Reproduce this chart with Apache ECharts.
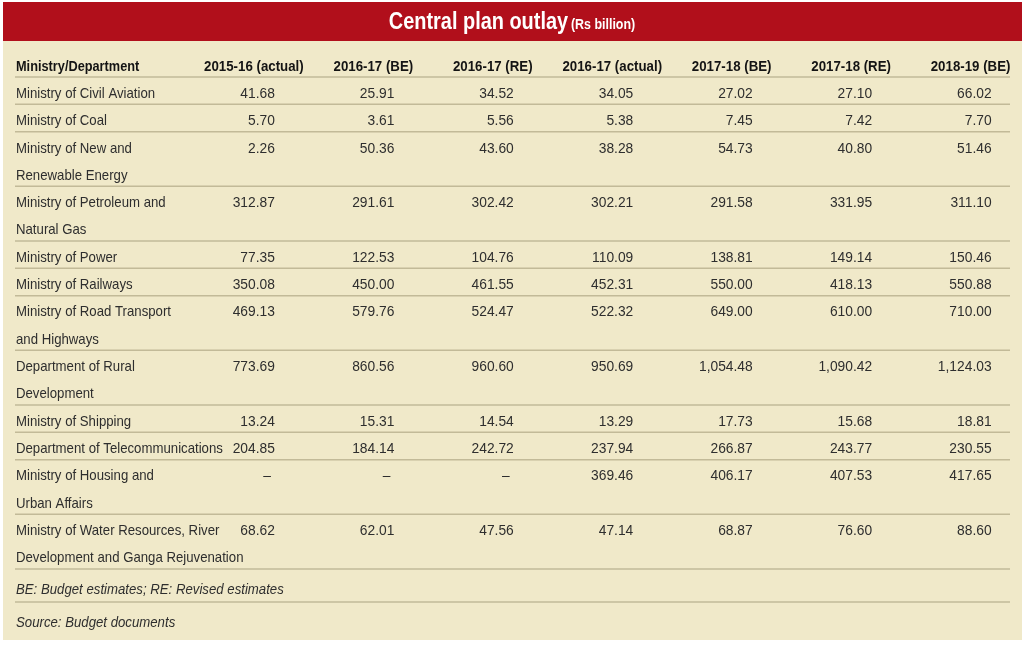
<!DOCTYPE html>
<html>
<head>
<meta charset="utf-8">
<script src="https://cdn.jsdelivr.net/npm/echarts@6/dist/echarts.min.js"></script>
<style>html,body{margin:0;padding:0;background:#fff}#c{width:1024px;height:645px}</style>
</head>
<body>
<div id="c"></div>
<script>
const title = 'Central plan outlay';
const unit = '(Rs billion)';
const firstColumn = 'Ministry/Department';
const periods = ['2015-16 (actual)', '2016-17 (BE)', '2016-17 (RE)', '2016-17 (actual)', '2017-18 (BE)', '2017-18 (RE)', '2018-19 (BE)'];
const ministries = [
  'Ministry of Civil Aviation',
  'Ministry of Coal',
  'Ministry of New and\nRenewable Energy',
  'Ministry of Petroleum and\nNatural Gas',
  'Ministry of Power',
  'Ministry of Railways',
  'Ministry of Road Transport\nand Highways',
  'Department of Rural\nDevelopment',
  'Ministry of Shipping',
  'Department of Telecommunications',
  'Ministry of Housing and\nUrban Affairs',
  'Ministry of Water Resources, River\nDevelopment and Ganga Rejuvenation'
];
const actual2015_16 = [41.68, 5.70, 2.26, 312.87, 77.35, 350.08, 469.13, 773.69, 13.24, 204.85, null, 68.62];
const be2016_17     = [25.91, 3.61, 50.36, 291.61, 122.53, 450.00, 579.76, 860.56, 15.31, 184.14, null, 62.01];
const re2016_17     = [34.52, 5.56, 43.60, 302.42, 104.76, 461.55, 524.47, 960.60, 14.54, 242.72, null, 47.56];
const actual2016_17 = [34.05, 5.38, 38.28, 302.21, 110.09, 452.31, 522.32, 950.69, 13.29, 237.94, 369.46, 47.14];
const be2017_18     = [27.02, 7.45, 54.73, 291.58, 138.81, 550.00, 649.00, 1054.48, 17.73, 266.87, 406.17, 68.87];
const re2017_18     = [27.10, 7.42, 40.80, 331.95, 149.14, 418.13, 610.00, 1090.42, 15.68, 243.77, 407.53, 76.60];
const be2018_19     = [66.02, 7.70, 51.46, 311.10, 150.46, 550.88, 710.00, 1124.03, 18.81, 230.55, 417.65, 88.60];
const notes = ['BE: Budget estimates; RE: Revised estimates', 'Source: Budget documents'];

const columns = [actual2015_16, be2016_17, re2016_17, actual2016_17, be2017_18, re2017_18, be2018_19];

// layout of sub-lines
const lineCats = ['h'];
const rowData = [{ value: [0, 0, -1] }];
ministries.forEach((m, i) => {
  const start = lineCats.length;
  m.split('\n').forEach(() => lineCats.push(String(lineCats.length)));
  rowData.push({ value: [0, start, i] });
});

const FONT = "'Liberation Sans', Arial, sans-serif";
const TXT = '#2e2e2e';
const RULE = '#c2ba98';
const DY = 3;

function fmt(v) {
  if (v === null || v === undefined) return '–';
  const s = v.toFixed(2).split('.');
  s[0] = s[0].replace(/\B(?=(\d{3})+(?!\d))/g, ',');
  return s.join('.');
}

function txt(x, y, t, align, bold, sx) {
  return {
    type: 'text',
    x: x, y: y, scaleX: sx,
    style: {
      x: 0, y: 0, text: t, align: align, verticalAlign: 'middle',
      fill: bold ? '#141414' : TXT,
      font: (bold ? 'bold ' : '') + '15px ' + FONT
    }
  };
}

function renderItem(params, api) {
  const r = api.value(2);
  const start = api.value(1);
  const cs = params.coordSys;
  const size = api.size([1, 1]);
  const h = size[1];
  const children = [];
  const labelX = cs.x + 1;
  let nLines = 1;
  const yc = api.coord([0, start])[1];
  const y0 = yc + DY;
  if (r < 0) {
    children.push(txt(labelX, y0, firstColumn, 'left', true, 0.85));
    periods.forEach((p, k) => {
      const c = api.coord([k, start]);
      children.push(txt(c[0], y0, p, 'center', true, 0.885));
    });
  } else {
    const parts = ministries[r].split('\n');
    nLines = parts.length;
    parts.forEach((p, j) => children.push(txt(labelX, y0 + j * h, p, 'left', false, 0.88)));
    columns.forEach((col, k) => {
      const c = api.coord([k, start]);
      const v = col[r];
      const isDash = v === null;
      children.push(txt(c[0] + 21 - (isDash ? 4 : 0), y0, fmt(v), 'right', false, 0.92));
    });
  }
  const ly = yc + (nLines - 0.5) * h;
  children.push({
    type: 'line',
    shape: { x1: cs.x, y1: ly, x2: cs.x + cs.width, y2: ly },
    style: { stroke: RULE, lineWidth: 1.5 }
  });
  return { type: 'group', children: children };
}

const chart = echarts.init(document.getElementById('c'));
chart.setOption({
  backgroundColor: '#ffffff',
  animation: false,
  graphic: [
    { type: 'rect', z: -10, shape: { x: 3, y: 2, width: 1019, height: 638 }, style: { fill: '#f0e9c9' } },
    { type: 'rect', z: -9, shape: { x: 3, y: 2, width: 1019, height: 39 }, style: { fill: '#b10f1b' } },
    {
      type: 'text', x: 512, y: 22, scaleX: 0.83, z: 5,
      style: {
        x: 0, y: 0, align: 'center', verticalAlign: 'middle',
        text: '{a|' + title + '} {b|' + unit + '}',
        rich: {
          a: { fontFamily: FONT, fontSize: 24, fontWeight: 'bold', fill: '#fff', color: '#fff' },
          b: { fontFamily: FONT, fontSize: 15, fontWeight: 'bold', fill: '#fff', color: '#fff', padding: [5, 0, 0, 0] }
        }
      }
    },
    { type: 'text', x: 16, y: 590, scaleX: 0.88, style: { x: 0, y: 0, text: notes[0], verticalAlign: 'middle', font: 'italic 15px ' + FONT, fill: TXT } },
    { type: 'line', shape: { x1: 15, y1: 602, x2: 1010, y2: 602 }, style: { stroke: RULE, lineWidth: 1.5 } },
    { type: 'text', x: 16, y: 623, scaleX: 0.88, style: { x: 0, y: 0, text: notes[1], verticalAlign: 'middle', font: 'italic 15px ' + FONT, fill: TXT } }
  ],
  grid: { left: 15, right: 14, top: 49.7, bottom: 76 },
  xAxis: { type: 'value', min: -2.0, max: 6.33, show: false },
  yAxis: { type: 'category', data: lineCats, inverse: true, show: false },
  series: [{
    type: 'custom',
    renderItem: renderItem,
    encode: { x: 0, y: 1 },
    data: rowData,
    clip: false
  }]
});
</script>
</body>
</html>
